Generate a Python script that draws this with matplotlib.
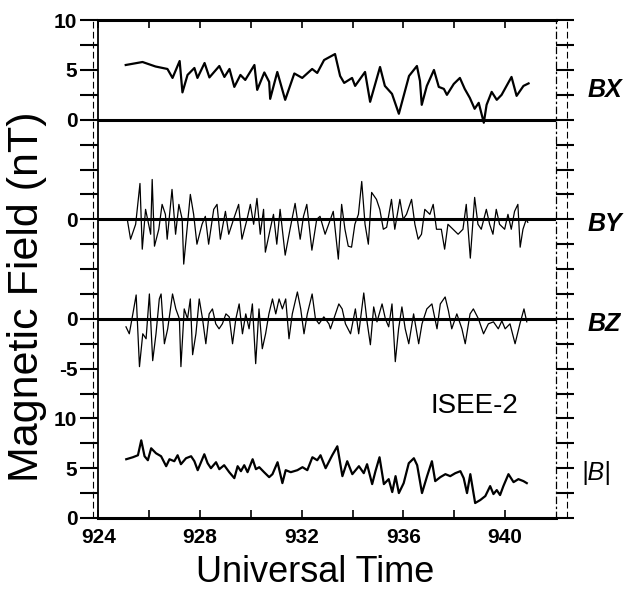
import matplotlib
matplotlib.use('Agg')
import matplotlib.pyplot as plt
from matplotlib.lines import Line2D
import numpy as np

plt.rcParams['font.family'] = ['Liberation Sans', 'DejaVu Sans']

# vertical offsets of each trace on the stacked axis (nT)
OFF_BX, OFF_BY, OFF_BZ, OFF_B = 40, 30, 20, 0

# BX component (UT minutes, nT)
bx_t = [925.08, 925.74, 926.25, 926.72, 926.92, 927.20, 927.31, 927.51, 927.78, 927.90,
        928.18, 928.37, 928.76, 928.96, 929.16, 929.35, 929.59, 929.78, 930.14, 930.25,
        930.53, 930.72, 930.76, 931.04, 931.35, 931.71, 932.02, 932.41, 932.61, 932.88,
        933.31, 933.51, 933.67, 933.98, 934.10, 934.49, 934.69, 935.08, 935.27, 935.55,
        935.82, 936.22, 936.53, 936.65, 936.72, 936.92, 937.20, 937.39, 937.59, 937.71,
        937.98, 938.22, 938.41, 938.61, 938.80, 938.96, 939.16, 939.27, 939.47, 939.67,
        939.86, 940.25, 940.45, 940.72, 940.92]
bx_v = [5.5, 5.8, 5.35, 5.1, 4.2, 5.9, 2.75, 4.5, 5.2, 4.2,
        5.7, 4.25, 5.4, 4.3, 5.1, 3.3, 4.5, 4.0, 5.5, 3.0,
        4.75, 3.8, 2.1, 4.8, 2.0, 4.65, 4.2, 5.1, 4.7, 6.0,
        6.6, 4.4, 3.7, 4.2, 3.4, 4.8, 1.8, 5.3, 3.4, 2.6,
        0.6, 4.4, 5.4, 3.9, 1.5, 3.4, 5.0, 3.3, 3.1, 2.5,
        3.6, 4.2, 3.1, 2.2, 1.1, 1.7, -0.3, 1.5, 2.8, 2.0,
        2.5, 4.3, 2.4, 3.4, 3.65]

# BY component
by_t = [925.14, 925.27, 925.47, 925.64, 925.73, 925.86, 926.06, 926.12, 926.21, 926.38,
        926.51, 926.64, 926.71, 926.90, 927.04, 927.17, 927.30, 927.36, 927.49, 927.62,
        927.75, 927.88, 928.08, 928.21, 928.34, 928.54, 928.67, 928.80, 929.00, 929.13,
        929.32, 929.52, 929.65, 929.85, 929.98, 930.11, 930.24, 930.37, 930.50, 930.57,
        930.76, 930.89, 931.02, 931.15, 931.35, 931.54, 931.74, 931.94, 932.07, 932.20,
        932.40, 932.59, 932.72, 932.92, 933.24, 933.44, 933.57, 933.70, 933.83, 933.96,
        934.09, 934.23, 934.36, 934.49, 934.62, 934.75, 934.94, 935.07, 935.21, 935.34,
        935.53, 935.66, 935.86, 935.99, 936.12, 936.32, 936.45, 936.58, 936.71, 936.84,
        937.04, 937.17, 937.30, 937.49, 937.62, 937.75, 937.95, 938.15, 938.34, 938.47,
        938.63, 938.80, 938.93, 939.06, 939.26, 939.39, 939.52, 939.65, 939.78, 939.98,
        940.11, 940.24, 940.37, 940.50, 940.59, 940.70, 940.83, 940.89]
by_v = [0.0, -2.0, -0.5, 3.6, -3.0, 1.0, -1.5, 4.0, -2.7, -1.0,
        1.5, 0.5, -2.0, 3.0, -1.5, 1.5, 0.0, -4.5, -1.0, 2.5,
        0.5, -2.5, -0.5, 0.3, -2.5, 1.0, 1.5, -2.0, 0.8, -1.5,
        0.0, 1.5, -2.0, 0.0, 1.5, -0.5, 2.1, -1.5, 1.0, -3.3,
        -1.0, 0.5, -2.5, 1.0, -3.6, -1.0, 1.6, -2.0, 0.3, 1.5,
        -3.1, 0.0, 0.3, -1.5, 0.8, -4.0, 1.5, -1.0, -2.7, -2.8,
        -0.5, 0.5, 3.8, -0.5, -2.5, 2.7, 2.0, 1.0, -1.0, -0.8,
        2.0, -1.0, 2.0, 0.0, 0.5, 2.0, -0.5, -2.0, -1.5, 1.0,
        0.5, 1.5, -1.0, -1.0, -3.0, -0.5, -1.0, -1.5, -1.0, 1.5,
        -3.9, 2.2, -0.5, -1.0, 1.0, -0.5, -1.5, 1.0, -0.5, -1.0,
        0.5, -1.0, 0.8, 1.5, -2.8, -1.0, 0.0, -0.3]

# BZ component
bz_t = [925.09, 925.22, 925.36, 925.49, 925.62, 925.75, 925.88, 926.01, 926.14, 926.27,
        926.40, 926.47, 926.60, 926.73, 926.92, 927.05, 927.19, 927.25, 927.38, 927.51,
        927.62, 927.71, 927.84, 927.97, 928.10, 928.23, 928.36, 928.49, 928.62, 928.75,
        928.88, 929.02, 929.15, 929.28, 929.41, 929.54, 929.67, 929.80, 929.93, 930.06,
        930.19, 930.32, 930.45, 930.58, 930.71, 930.85, 930.98, 931.11, 931.24, 931.37,
        931.50, 931.63, 931.83, 931.96, 932.09, 932.22, 932.41, 932.54, 932.68, 932.87,
        933.07, 933.13, 933.46, 933.59, 933.72, 933.92, 934.11, 934.24, 934.44, 934.57,
        934.70, 934.83, 934.96, 935.16, 935.29, 935.42, 935.55, 935.68, 935.81, 935.94,
        936.07, 936.21, 936.40, 936.60, 936.73, 936.92, 937.12, 937.32, 937.45, 937.64,
        937.77, 937.90, 938.10, 938.30, 938.43, 938.62, 938.75, 938.95, 939.15, 939.34,
        939.54, 939.73, 939.87, 940.00, 940.19, 940.39, 940.58, 940.74, 940.85]
bz_v = [-0.8, -1.5, 0.5, 2.4, -4.8, -1.5, -2.0, 2.5, -4.2, -1.5,
        2.0, 2.5, -2.5, -1.0, 2.5, 1.0, 0.0, -4.8, 1.0, 0.0,
        2.0, -3.6, -1.5, 2.0, 0.0, -2.5, 0.5, 1.0, -0.5, -1.0,
        -0.5, 0.5, 0.2, -2.5, 0.0, 1.5, -1.5, 0.5, -1.0, 1.5,
        -4.5, 1.0, -3.0, -1.5, 0.5, 2.0, 0.5, 2.0, 1.0, 2.0,
        -2.0, 0.5, 2.7, 1.0, -1.5, 0.5, 2.5, 0.0, -0.5, 0.2,
        -0.5, -1.0, 1.5, 1.0, -0.5, -1.5, 1.0, -1.5, 2.6, -0.3,
        -2.6, 1.2, -0.3, 1.5, 0.0, -0.8, 1.5, -4.3, -1.0, 1.2,
        -1.0, -2.5, 0.5, -2.5, -0.5, 1.0, 1.5, -1.0, 1.5, 2.2,
        0.8, -1.0, 0.5, -1.0, -2.5, 0.5, 1.0, 0.0, -1.5, -0.5,
        -0.3, -1.0, -0.2, -1.0, -0.5, -2.5, -0.5, 1.0, -0.3]

# total field |B|
bt_t = [925.10, 925.36, 925.56, 925.69, 925.82, 925.95, 926.08, 926.27, 926.47, 926.67,
        926.80, 926.99, 927.12, 927.25, 927.45, 927.65, 927.78, 927.91, 928.17, 928.30,
        928.43, 928.63, 928.76, 928.95, 929.15, 929.35, 929.48, 929.61, 929.74, 929.87,
        930.07, 930.20, 930.33, 930.52, 930.72, 930.85, 931.05, 931.24, 931.37, 931.57,
        931.83, 932.03, 932.22, 932.42, 932.61, 932.74, 932.94, 933.20, 933.40, 933.60,
        933.79, 933.99, 934.25, 934.44, 934.57, 934.77, 934.90, 935.06, 935.23, 935.42,
        935.56, 935.69, 935.82, 936.01, 936.21, 936.41, 936.54, 936.73, 936.93, 937.12,
        937.25, 937.45, 937.65, 937.84, 938.04, 938.24, 938.37, 938.50, 938.63, 938.82,
        939.02, 939.22, 939.41, 939.54, 939.67, 939.80, 939.93, 940.13, 940.33, 940.52,
        940.72, 940.85]
bt_v = [5.9, 6.1, 6.3, 7.8, 6.2, 5.8, 7.0, 6.5, 6.2, 5.2,
        5.9, 5.7, 6.3, 5.4, 6.0, 6.2, 5.7, 4.8, 6.4, 5.5,
        5.0, 5.6, 4.9, 5.3, 4.6, 4.0, 5.2, 4.7, 5.3, 4.6,
        5.9, 4.9, 5.1, 4.6, 4.1, 4.4, 5.6, 3.5, 4.8, 4.6,
        4.8, 5.1, 4.8, 6.1, 5.8, 6.3, 5.0, 6.3, 7.2, 4.2,
        5.7, 4.4, 5.2, 4.5, 5.4, 3.4, 4.7, 6.1, 3.4, 3.9,
        2.6, 4.2, 2.5, 3.5, 5.5, 6.0, 5.3, 2.5, 4.2, 5.7,
        3.7, 4.1, 4.4, 4.2, 4.5, 4.7, 4.0, 2.5, 4.4, 1.5,
        1.8, 2.2, 3.2, 2.4, 2.8, 2.3, 3.2, 4.4, 3.6, 3.9,
        3.7, 3.5]

y_ticks = np.arange(0, 50.1, 2.5)
y_labels = {0: '0', 5: '5', 10: '10', 15: '-5', 20: '0', 30: '0', 40: '0', 45: '5', 50: '10'}
x_labels = [924, 928, 932, 936, 940]

fig = plt.figure(figsize=(6.34, 5.94), dpi=100)
ax = fig.add_axes([0.155, 0.128, 0.722, 0.838])

for off in (OFF_BX, OFF_BY, OFF_BZ):
    ax.axhline(off, color='black', lw=2.2, zorder=1)

ax.plot(bx_t, np.array(bx_v) + OFF_BX, color='black', lw=1.6)
ax.plot(by_t, np.array(by_v) + OFF_BY, color='black', lw=0.9)
ax.plot(bz_t, np.array(bz_v) + OFF_BZ, color='black', lw=0.9)
ax.plot(bt_t, np.array(bt_v) + OFF_B, color='black', lw=1.6)

ax.set_xlim(924, 942)
ax.set_ylim(0, 50)

ax.set_xticks(np.arange(924, 941, 2))
ax.set_xticklabels([str(v) if v in x_labels else '' for v in range(924, 941, 2)],
                   fontsize=15, fontweight='bold')
ax.tick_params(axis='x', direction='in', length=6, width=1.2, top=True, pad=7)

ax.set_yticks(y_ticks)
ax.set_yticklabels([y_labels.get(v, '') if float(v).is_integer() else '' for v in y_ticks],
                   fontsize=15, fontweight='bold')
ax.tick_params(axis='y', direction='out', length=13, width=1.5, right=True, pad=2)
ax.tick_params(axis='y', which='major', right=True, labelright=False)

ax.spines['top'].set_linewidth(2.2)
ax.spines['bottom'].set_linewidth(2.2)
ax.spines['left'].set_linewidth(1.3)
ax.spines['right'].set_linewidth(0.9)
ax.spines['right'].set_linestyle((0, (5, 3, 1, 3)))

# dashed rulers next to the tick marks
ax.add_line(Line2D([-0.012, -0.012], [0, 1], transform=ax.transAxes, color='black',
                   lw=0.8, ls=(0, (6, 3)), clip_on=False))
ax.add_line(Line2D([1.025, 1.025], [0, 1], transform=ax.transAxes, color='black',
                   lw=0.8, ls=(0, (6, 3)), clip_on=False))

# component names on the right
for name, yv in (('BX', 43), ('BY', 29.5), ('BZ', 19.5)):
    ax.text(1.07, yv, name, transform=ax.get_yaxis_transform(), fontsize=18,
            fontstyle='italic', fontweight='bold', va='center', ha='left')
ax.text(1.055, 4.5, '|B|', transform=ax.get_yaxis_transform(), fontsize=18,
        fontstyle='italic', va='center', ha='left')

ax.text(938.8, 11.2, 'ISEE-2', fontsize=20, ha='center', va='center')

fig.text(0.043, 0.5, 'Magnetic Field (nT)', rotation=90, fontsize=31,
         ha='center', va='center')
fig.text(0.497, 0.037, 'Universal Time', fontsize=26, ha='center', va='center')

fig.savefig('out.png', dpi=100)
